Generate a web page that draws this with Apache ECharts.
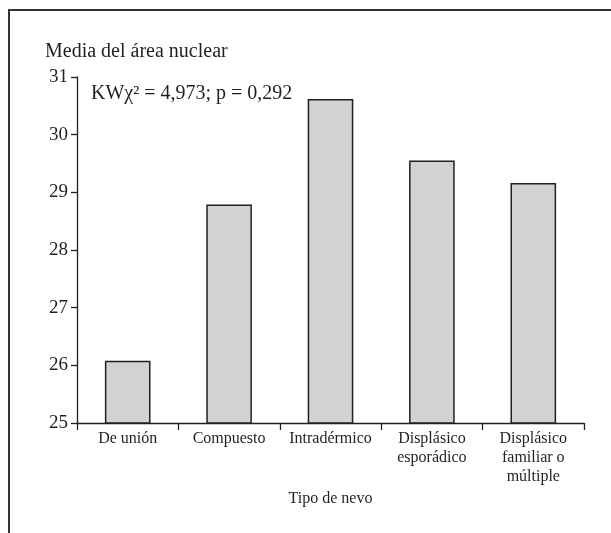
<!DOCTYPE html>
<html>
<head>
<meta charset="utf-8">
<script src="https://cdn.jsdelivr.net/npm/echarts@6/dist/echarts.min.js"></script>
<style>html,body{margin:0;padding:0;background:#fff}#c{width:611px;height:533px}</style>
</head>
<body>
<div id="c"></div>
<script>
const categories = ['De unión', 'Compuesto', 'Intradérmico', 'Displásico\nesporádico', 'Displásico\nfamiliar o\nmúltiple'];
const values = [26.08, 28.79, 30.62, 29.55, 29.16];
const yTicks = { min: 25, max: 31, interval: 1 };
const yName = 'Media del área nuclear';
const xName = 'Tipo de nevo';
const note = 'KWχ² = 4,973; p = 0,292';

const font = 'Liberation Serif';
const ink = '#231f20';
const chart = echarts.init(document.getElementById('c'), null, { renderer: 'canvas' });
chart.setOption({
  animation: false,
  backgroundColor: '#fff',
  textStyle: { fontFamily: font, color: ink },
  grid: { left: 77, right: 27, top: 77, bottom: 110 },
  title: {
    text: note, left: 86, top: 79,
    textStyle: { fontFamily: font, fontSize: 20, fontWeight: 'normal', color: ink }
  },
  xAxis: {
    type: 'category', data: categories,
    name: xName, nameLocation: 'middle', nameGap: 64,
    nameTextStyle: { fontFamily: font, fontSize: 16, color: ink },
    axisLine: { lineStyle: { color: ink, width: 1.3 } },
    axisTick: { show: true, length: 7, inside: false, lineStyle: { color: ink, width: 1.3 } },
    axisLabel: { fontFamily: font, fontSize: 16, color: ink, margin: 6, lineHeight: 19, interval: 0 }
  },
  yAxis: {
    type: 'value', min: yTicks.min, max: yTicks.max, interval: yTicks.interval,
    name: yName, nameLocation: 'end', nameGap: 15,
    nameTextStyle: { fontFamily: font, fontSize: 20, color: ink, align: 'left', padding: [0, 0, 0, -32] },
    axisLine: { show: true, lineStyle: { color: ink, width: 1.3 } },
    axisTick: { show: true, length: 6, lineStyle: { color: ink, width: 1.3 } },
    axisLabel: { fontFamily: font, fontSize: 19, color: ink, margin: 9 },
    splitLine: { show: false }
  },
  series: [{
    type: 'bar', data: values, barWidth: '45%',
    itemStyle: { color: '#d1d2d4', borderColor: ink, borderWidth: 1.5 }
  }],
  graphic: [
    { type: 'line', shape: { x1: 8, y1: 10, x2: 611, y2: 10 }, style: { stroke: '#333', lineWidth: 2 } },
    { type: 'line', shape: { x1: 9, y1: 10, x2: 9, y2: 533 }, style: { stroke: '#333', lineWidth: 2 } }
  ]
});
</script>
</body>
</html>
